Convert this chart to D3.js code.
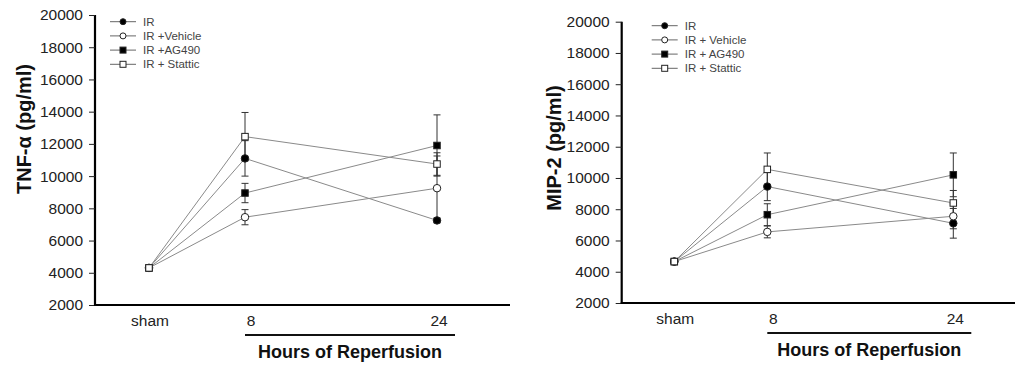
<!DOCTYPE html>
<html>
<head>
<meta charset="utf-8">
<script src="https://cdn.jsdelivr.net/npm/d3@7"></script>
<style>
  body { margin: 0; background: #fff; }
  svg { font-family: "Liberation Sans", Arial, sans-serif; }
  .tick_label { font-size: 15.5px; fill: #222; }
  .legend_text { font-size: 11.5px; fill: #444; }
  .axis_title { font-size: 20px; font-weight: bold; fill: #111; }
  .hours_title { font-size: 18px; font-weight: bold; fill: #111; }
</style>
</head>
<body>
<div id="chart"></div>
<script>
// hours after reperfusion (sham drawn at 0)
const hours = [0, 8, 24];
const xLabels = ["sham", "8", "24"];
const yTicks = [2000, 4000, 6000, 8000, 10000, 12000, 14000, 16000, 18000, 20000];

const markers = ["circleFilled", "circleOpen", "squareFilled", "squareOpen"];
const tnfNames = ["IR", "IR +Vehicle", "IR +AG490", "IR + Stattic"];
const mipNames = ["IR", "IR + Vehicle", "IR + AG490", "IR + Stattic"];

// TNF-alpha (pg/ml), mean and error
const tnfIR = [4300, 11100, 7250];
const tnfIRErr = [150, 1100, 150];
const tnfVehicle = [4300, 7450, 9250];
const tnfVehicleErr = [150, 470, 2000];
const tnfAG490 = [4300, 8950, 11900];
const tnfAG490Err = [150, 600, 1900];
const tnfStattic = [4300, 12450, 10750];
const tnfStatticErr = [150, 1500, 700];

// MIP-2 (pg/ml), mean and error
const mipIR = [4650, 9450, 7100];
const mipIRErr = [100, 900, 950];
const mipVehicle = [4650, 6550, 7550];
const mipVehicleErr = [100, 380, 800];
const mipAG490 = [4650, 7650, 10200];
const mipAG490Err = [100, 700, 1400];
const mipStattic = [4650, 10550, 8400];
const mipStatticErr = [100, 1050, 800];

let svg = d3.select("#chart")
    .append("svg")
    .attr("width", 1015)
    .attr("height", 369);

function drawMarker(g, type, x, y, size) {
    if (type.startsWith("circle")) {
        g.append("circle")
            .attr("cx", x).attr("cy", y).attr("r", size / 2)
            .attr("fill", type.endsWith("Filled") ? "#000" : "#fff")
            .attr("stroke", "#222").attr("stroke-width", 1);
    } else {
        g.append("rect")
            .attr("x", x - size / 2).attr("y", y - size / 2)
            .attr("width", size).attr("height", size)
            .attr("fill", type.endsWith("Filled") ? "#000" : "#fff")
            .attr("stroke", "#222").attr("stroke-width", 1);
    }
}

function drawPanel(p) {
    let g = svg.append("g");

    let x = d3.scaleLinear().domain([0, 24]).range(p.xRange);
    let y = d3.scaleLinear().domain([2000, 20000]).range(p.yRange);

    // y axis
    let yAxis = g.append("g")
        .attr("transform", "translate(" + p.axisX + ",0)")
        .call(d3.axisLeft(y).tickValues(yTicks).tickSize(6).tickPadding(6).tickFormat(d3.format("d")));
    yAxis.select(".domain").attr("stroke", "#000").attr("stroke-width", 2.2)
        .attr("d", "M0," + y(20000) + "V" + y(2000));
    yAxis.selectAll(".tick line").attr("stroke", "#222");
    yAxis.selectAll(".tick text").attr("class", "tick_label").attr("font-size", null).attr("font-family", null);

    // x axis line
    g.append("line")
        .attr("x1", p.axisX - 1).attr("x2", p.axisEnd)
        .attr("y1", y(2000)).attr("y2", y(2000))
        .attr("stroke", "#000").attr("stroke-width", 2.2);

    // x tick labels
    let labelShift = [1, 6, 2];
    hours.forEach((h, i) => {
        g.append("text")
            .classed("tick_label", true)
            .attr("x", x(h) + labelShift[i])
            .attr("y", y(2000) + 21)
            .attr("text-anchor", "middle")
            .text(xLabels[i]);
    });

    // hours of reperfusion bracket
    g.append("line")
        .attr("x1", x(8)).attr("x2", x(24) + 18)
        .attr("y1", y(2000) + 30).attr("y2", y(2000) + 30)
        .attr("stroke", "#111").attr("stroke-width", 2);
    g.append("text")
        .classed("hours_title", true)
        .attr("x", (x(8) + x(24) + 18) / 2)
        .attr("y", y(2000) + 53)
        .attr("text-anchor", "middle")
        .text("Hours of Reperfusion");

    // y axis title
    g.append("text")
        .classed("axis_title", true)
        .attr("transform", "translate(" + p.titleX + "," + p.titleY + ") rotate(-90)")
        .attr("text-anchor", "middle")
        .text(p.title);

    let line = d3.line().x((d, i) => x(hours[i])).y(d => y(d));

    // connecting lines
    p.series.forEach(s => {
        g.append("path")
            .attr("d", line(s.values))
            .attr("fill", "none")
            .attr("stroke", "#8a8a8a")
            .attr("stroke-width", 1);
    });

    // error bars
    p.series.forEach(s => {
        s.values.forEach((v, i) => {
            let cx = x(hours[i]);
            let top = y(v + s.err[i]);
            let bot = y(v - s.err[i]);
            g.append("line").attr("x1", cx).attr("x2", cx).attr("y1", top).attr("y2", bot)
                .attr("stroke", "#333").attr("stroke-width", 1);
            [top, bot].forEach(yy => {
                g.append("line").attr("x1", cx - 3.5).attr("x2", cx + 3.5).attr("y1", yy).attr("y2", yy)
                    .attr("stroke", "#333").attr("stroke-width", 1);
            });
        });
    });

    // markers
    p.series.forEach(s => {
        s.values.forEach((v, i) => drawMarker(g, s.marker, x(hours[i]), y(v), s.marker.startsWith("circle") ? 7.5 : 6.5));
    });

    // legend
    p.series.forEach((s, i) => {
        let ly = p.legendY + i * 14.2;
        g.append("line")
            .attr("x1", p.legendX).attr("x2", p.legendX + 26)
            .attr("y1", ly).attr("y2", ly)
            .attr("stroke", "#666").attr("stroke-width", 1);
        drawMarker(g, s.marker, p.legendX + 13, ly, 6);
        g.append("text")
            .classed("legend_text", true)
            .attr("x", p.legendX + 33)
            .attr("y", ly + 4)
            .text(s.name);
    });
}

drawPanel({
    xRange: [149, 437],
    yRange: [305, 15],
    axisX: 95,
    axisEnd: 510,
    title: "TNF-\u03b1 (pg/ml)",
    titleX: 31,
    titleY: 129,
    legendX: 110,
    legendY: 21.7,
    series: [
        {name: tnfNames[0], marker: markers[0], values: tnfIR, err: tnfIRErr},
        {name: tnfNames[1], marker: markers[1], values: tnfVehicle, err: tnfVehicleErr},
        {name: tnfNames[2], marker: markers[2], values: tnfAG490, err: tnfAG490Err},
        {name: tnfNames[3], marker: markers[3], values: tnfStattic, err: tnfStatticErr}
    ]
});

drawPanel({
    xRange: [674.3, 953.3],
    yRange: [303, 21.7],
    axisX: 621.7,
    axisEnd: 1015,
    title: "MIP-2 (pg/ml)",
    titleX: 561,
    titleY: 148,
    legendX: 651.7,
    legendY: 25.7,
    series: [
        {name: mipNames[0], marker: markers[0], values: mipIR, err: mipIRErr},
        {name: mipNames[1], marker: markers[1], values: mipVehicle, err: mipVehicleErr},
        {name: mipNames[2], marker: markers[2], values: mipAG490, err: mipAG490Err},
        {name: mipNames[3], marker: markers[3], values: mipStattic, err: mipStatticErr}
    ]
});
</script>
</body>
</html>
